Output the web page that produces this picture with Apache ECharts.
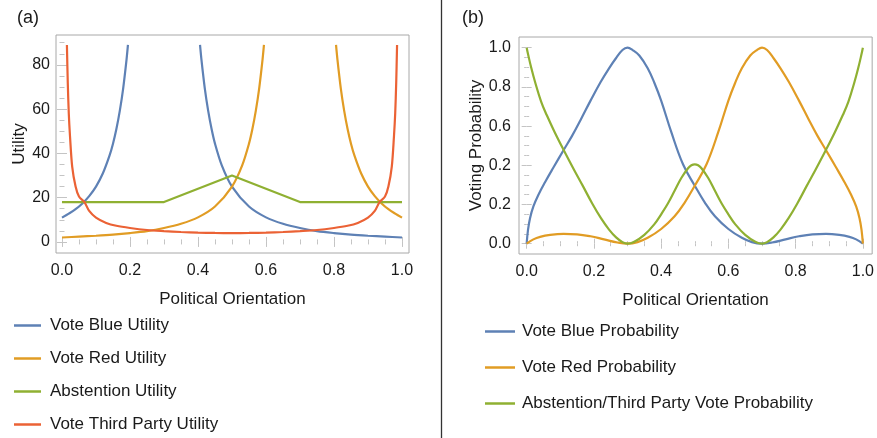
<!DOCTYPE html>
<html>
<head>
<meta charset="utf-8">
<script src="https://cdn.jsdelivr.net/npm/echarts@6/dist/echarts.min.js"></script>
<style>
  html, body { margin: 0; padding: 0; background: #fff; }
  #main { width: 877px; height: 438px; }
</style>
</head>
<body>
<div id="main"></div>
<script>
// panel (a) - utilities (null = break at asymptote)
const blueUtilX = [0, 0.02, 0.04, 0.06, 0.08, 0.10, 0.12, 0.14, 0.15, 0.16, 0.17, 0.18, 0.19, 0.194, 0.3,
  0.406, 0.41, 0.42, 0.43, 0.44, 0.45, 0.47, 0.5, 0.55, 0.6, 0.65, 0.7, 0.75, 0.8, 0.85, 0.9, 0.95, 1.0]
const blueUtilY = [11.0, 12.8, 14.8, 17.4, 20.7, 25.0, 30.9, 39.1, 44.4, 51.0, 59.2, 69.4, 82.6, 89, null,
  89, 82.6, 69.4, 59.2, 51.0, 44.4, 34.6, 25.0, 16.0, 11.1, 8.2, 6.3, 4.9, 4.0, 3.3, 2.8, 2.4, 2.0]
const redUtilX = [0, 0.05, 0.1, 0.15, 0.2, 0.25, 0.3, 0.35, 0.4, 0.45, 0.5, 0.53, 0.55, 0.56, 0.57, 0.58, 0.59, 0.594, 0.7,
  0.806, 0.81, 0.82, 0.83, 0.84, 0.85, 0.86, 0.88, 0.9, 0.92, 0.94, 0.96, 0.98, 1.0]
const redUtilY = [2.0, 2.4, 2.8, 3.3, 4.0, 4.9, 6.3, 8.2, 11.1, 16.0, 25.0, 34.6, 44.4, 51.0, 59.2, 69.4, 82.6, 89, null,
  89, 82.6, 69.4, 59.2, 51.0, 44.4, 39.1, 30.9, 25.0, 20.7, 17.4, 14.8, 12.8, 11.0]
const abstUtilX = [0, 0.3, 0.5, 0.7, 1.0]
const abstUtilY = [18, 18, 30, 18, 18]
const thirdUtilX = [0.0145, 0.017, 0.02, 0.0235, 0.03, 0.04, 0.05, 0.066, 0.08, 0.1, 0.13, 0.16, 0.2, 0.25, 0.3, 0.35, 0.4, 0.45, 0.5,
  0.55, 0.6, 0.65, 0.7, 0.75, 0.8, 0.84, 0.87, 0.9, 0.92, 0.934, 0.95, 0.96, 0.97, 0.9765, 0.98, 0.983, 0.9855]
const thirdUtilY = [89, 72, 58, 48, 34, 25, 20.5, 18, 14, 11, 8.6, 7.3, 6.3, 5.4, 4.9, 4.5, 4.2, 4.05, 4.0,
  4.05, 4.2, 4.5, 4.9, 5.4, 6.3, 7.3, 8.6, 11, 14, 18, 20.5, 25, 34, 48, 58, 72, 89]

// panel (b) - probabilities
const blueProbX = [0, 0.004, 0.01, 0.02, 0.035, 0.055, 0.08, 0.11, 0.135, 0.16, 0.19, 0.22, 0.245, 0.265, 0.285, 0.3, 0.315, 0.335, 0.36, 0.38,
  0.4, 0.43, 0.465, 0.5, 0.53, 0.56, 0.6, 0.64, 0.67, 0.7, 0.73, 0.77, 0.81, 0.85, 0.89, 0.93, 0.96, 0.98, 1.0]
const blueProbY = [0, 0.07, 0.13, 0.19, 0.25, 0.315, 0.39, 0.478, 0.55, 0.63, 0.73, 0.825, 0.895, 0.945, 0.988, 1.0, 0.988, 0.96, 0.895, 0.82,
  0.73, 0.57, 0.405, 0.296, 0.21, 0.14, 0.075, 0.03, 0.008, 0, 0.006, 0.022, 0.038, 0.048, 0.05, 0.045, 0.035, 0.022, 0]
const redProbX = [0, 0.02, 0.04, 0.07, 0.11, 0.15, 0.19, 0.23, 0.27, 0.3, 0.33, 0.36, 0.4, 0.44, 0.47, 0.5, 0.535, 0.57, 0.6, 0.62,
  0.64, 0.665, 0.685, 0.7, 0.715, 0.735, 0.755, 0.78, 0.81, 0.84, 0.865, 0.89, 0.92, 0.945, 0.965, 0.98, 0.99, 0.996, 1.0]
const redProbY = [0, 0.022, 0.035, 0.045, 0.05, 0.048, 0.038, 0.022, 0.006, 0, 0.008, 0.03, 0.075, 0.14, 0.21, 0.296, 0.405, 0.57, 0.73, 0.82,
  0.895, 0.96, 0.988, 1.0, 0.988, 0.945, 0.895, 0.825, 0.73, 0.63, 0.55, 0.478, 0.39, 0.315, 0.25, 0.19, 0.13, 0.07, 0]
const otherProbX = [0, 0.005, 0.014, 0.025, 0.043, 0.06, 0.083, 0.11, 0.14, 0.167, 0.195, 0.221, 0.245, 0.266, 0.285, 0.3, 0.32, 0.35, 0.38, 0.4,
  0.42, 0.44, 0.46, 0.48, 0.49, 0.5, 0.51, 0.52, 0.54, 0.56, 0.58, 0.6, 0.62, 0.65, 0.68, 0.7, 0.715, 0.734, 0.755, 0.779,
  0.805, 0.833, 0.86, 0.89, 0.917, 0.94, 0.957, 0.975, 0.986, 0.995, 1.0]
const otherProbY = [1.0, 0.96, 0.895, 0.825, 0.725, 0.655, 0.57, 0.478, 0.38, 0.295, 0.205, 0.13, 0.072, 0.032, 0.008, 0, 0.01, 0.045, 0.1, 0.15,
  0.205, 0.27, 0.335, 0.385, 0.4, 0.405, 0.4, 0.385, 0.335, 0.27, 0.205, 0.15, 0.1, 0.045, 0.01, 0, 0.008, 0.032, 0.072, 0.13,
  0.205, 0.295, 0.38, 0.478, 0.57, 0.655, 0.725, 0.825, 0.895, 0.96, 1.0]

// ticks
const xTicks = [0, 0.2, 0.4, 0.6, 0.8, 1.0]
const xMinor = [0.05, 0.1, 0.15, 0.25, 0.3, 0.35, 0.45, 0.5, 0.55, 0.65, 0.7, 0.75, 0.85, 0.9, 0.95]
const utilTicks = [0, 20, 40, 60, 80]
const utilMinor = [5, 10, 15, 25, 30, 35, 45, 50, 55, 65, 70, 75, 85, 90]
const probTicks = [0, 0.2, 0.4, 0.6, 0.8, 1.0]
const probTickLabels = ['0.0', '0.2', '0.2', '0.6', '0.8', '1.0']
const probMinor = [0.05, 0.1, 0.15, 0.25, 0.3, 0.35, 0.45, 0.5, 0.55, 0.65, 0.7, 0.75, 0.85, 0.9, 0.95]

const utilNames = ['Vote Blue Utility', 'Vote Red Utility', 'Abstention Utility', 'Vote Third Party Utility']
const probNames = ['Vote Blue Probability', 'Vote Red Probability', 'Abstention/Third Party Vote Probability']

const BLUE = '#5E81B5', ORANGE = '#E19C24', GREEN = '#8FB032', RED = '#EB6235'
const FONT = '"Liberation Sans", Arial, sans-serif'
const TEXTC = '#1a1a1a'
const TICKC = '#c4c4c4'

function zip(xs, ys) {
  return xs.map((x, i) => [x, ys[i] === null ? '-' : ys[i]])
}

// one axis (x or y) with custom tick positions, optional labels
function ax(grid, pos, min, max, ticks, len, labels, extra) {
  return Object.assign({
    type: 'value', gridIndex: grid, position: pos, min: min, max: max,
    axisLine: { show: false },
    splitLine: { show: false },
    axisTick: { show: true, inside: true, length: len, customValues: ticks, lineStyle: { color: TICKC, width: 1 } },
    axisLabel: labels ? Object.assign({ show: true, customValues: ticks, fontSize: 16, color: TEXTC, fontFamily: FONT }, labels) : { show: false }
  }, extra || {})
}

const chart = echarts.init(document.getElementById('main'), null, { renderer: 'canvas' })

const xL = [-0.0176, 1.0206], yL = [-5, 93.5]
const xR = [-0.0228, 1.0276], yR = [-0.0526, 1.0546]

const nameStyle = { fontSize: 17, color: TEXTC, fontFamily: FONT }

const lineSeries = (name, data, color, xi, yi, smooth) => ({
  name: name, type: 'line', xAxisIndex: xi, yAxisIndex: yi, data: data,
  showSymbol: false, symbol: 'none', smooth: smooth,
  connectNulls: false, clip: true,
  lineStyle: { color: color, width: 2.2 }, itemStyle: { color: color }
})

chart.setOption({
  animation: false,
  textStyle: { fontFamily: FONT },
  grid: [
    { left: 56, top: 35, width: 353, height: 218, show: true, borderColor: '#a8a8a8', borderWidth: 1 },
    { left: 519, top: 37, width: 354, height: 217, show: true, borderColor: '#a8a8a8', borderWidth: 1 }
  ],
  xAxis: [
    ax(0, 'bottom', xL[0], xL[1], xTicks, 5, { formatter: v => v.toFixed(1), margin: 10 },
      { name: 'Political Orientation', nameLocation: 'middle', nameGap: 38, nameTextStyle: nameStyle }),
    ax(0, 'bottom', xL[0], xL[1], xMinor, 2.5),
    ax(0, 'top', xL[0], xL[1], xTicks, 5),
    ax(0, 'top', xL[0], xL[1], xMinor, 2.5),
    ax(1, 'bottom', xR[0], xR[1], xTicks, 5, { formatter: v => v.toFixed(1), margin: 10 },
      { name: 'Political Orientation', nameLocation: 'middle', nameGap: 38, nameTextStyle: nameStyle }),
    ax(1, 'bottom', xR[0], xR[1], xMinor, 2.5),
    ax(1, 'top', xR[0], xR[1], xTicks, 5),
    ax(1, 'top', xR[0], xR[1], xMinor, 2.5)
  ],
  yAxis: [
    ax(0, 'left', yL[0], yL[1], utilTicks, 5, { margin: 6 },
      { name: 'Utility', nameLocation: 'middle', nameGap: 27, nameTextStyle: nameStyle }),
    ax(0, 'left', yL[0], yL[1], utilMinor, 2.5),
    ax(0, 'right', yL[0], yL[1], utilTicks, 5),
    ax(0, 'right', yL[0], yL[1], utilMinor, 2.5),
    ax(1, 'left', yR[0], yR[1], probTicks, 5, { margin: 8, formatter: v => probTickLabels[probTicks.findIndex(t => Math.abs(t - v) < 1e-6)] },
      { name: 'Voting Probability', nameLocation: 'middle', nameGap: 33, nameTextStyle: nameStyle }),
    ax(1, 'left', yR[0], yR[1], probMinor, 2.5),
    ax(1, 'right', yR[0], yR[1], probTicks, 5),
    ax(1, 'right', yR[0], yR[1], probMinor, 2.5)
  ],
  legend: [
    {
      data: utilNames, orient: 'vertical', left: 14, top: 317, height: 140, padding: 0, icon: 'rect',
      itemWidth: 27, itemHeight: 2.5, itemGap: 16, selectedMode: false,
      textStyle: { fontSize: 17, color: TEXTC, fontFamily: FONT, padding: [0, 0, 0, 4] }
    },
    {
      data: probNames, orient: 'vertical', left: 485, top: 323, height: 140, padding: 0, icon: 'rect',
      itemWidth: 30, itemHeight: 2.5, itemGap: 19, selectedMode: false,
      textStyle: { fontSize: 17, color: TEXTC, fontFamily: FONT, padding: [0, 0, 0, 2] }
    }
  ],
  graphic: [
    { type: 'text', left: 17, top: 9, style: { text: '(a)', fontSize: 18, fill: TEXTC, fontFamily: FONT } },
    { type: 'text', left: 462, top: 9, style: { text: '(b)', fontSize: 18, fill: TEXTC, fontFamily: FONT } },
    { type: 'line', shape: { x1: 441.5, y1: 0, x2: 441.5, y2: 438 }, style: { stroke: '#333', lineWidth: 1.3 } }
  ],
  series: [
    lineSeries(utilNames[0], zip(blueUtilX, blueUtilY), BLUE, 0, 0, 0.3),
    lineSeries(utilNames[1], zip(redUtilX, redUtilY), ORANGE, 0, 0, 0.3),
    lineSeries(utilNames[2], zip(abstUtilX, abstUtilY), GREEN, 0, 0, false),
    lineSeries(utilNames[3], zip(thirdUtilX, thirdUtilY), RED, 0, 0, 0.3),
    lineSeries(probNames[0], zip(blueProbX, blueProbY), BLUE, 4, 4, 0.4),
    lineSeries(probNames[1], zip(redProbX, redProbY), ORANGE, 4, 4, 0.4),
    lineSeries(probNames[2], zip(otherProbX, otherProbY), GREEN, 4, 4, 0.4)
  ]
})
</script>
</body>
</html>
